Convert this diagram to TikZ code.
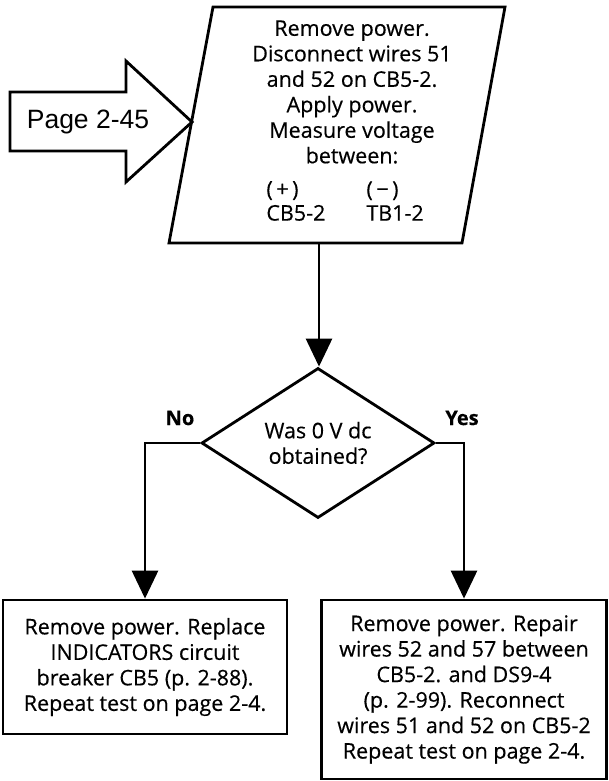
\documentclass[tikz,border=0pt]{standalone}
\usepackage{fontspec}
\setmainfont{Open Sans}[FakeBold=0.4]
\newfontfamily\arialfont{Liberation Sans}
\usetikzlibrary{arrows.meta, shapes.geometric, positioning}

\begin{document}
\begin{tikzpicture}[x=1pt, y=-1pt, line width=2.8pt,
  txt/.style={align=center, inner sep=0pt, font=\fontsize{21.5}{25.5}\selectfont},
  stepbox/.style={draw, rectangle, txt},
  decision/.style={draw, diamond, txt, shape aspect=1.55,
    minimum width=233pt, minimum height=150pt},
  answer/.style={inner sep=0pt, font=\fontsize{20}{22}\selectfont\bfseries},
  flow/.style={-{Triangle[length=28pt, width=26pt]}}
]
  \useasboundingbox (0,0) rectangle (608,781);

  \draw (10,92) -- (126,92) -- (126,61) -- (192,122) -- (126,182)
    -- (126,151) -- (10,151) -- cycle;
  \node[inner sep=0pt, font=\arialfont\fontsize{26.5}{28}\selectfont] (page) at (88,122) {Page 2-45};

  \draw (213,7) -- (505,7) -- (462,243) -- (169,243) -- cycle;
  \coordinate (measureout) at (319,243);
  \node[txt] (measure) at (352,92) {Remove power.\\Disconnect wires 51\\and 52 on CB5-2.\\Apply power.\\Measure voltage\\between:};
  \node[txt, align=left, anchor=west, font=\fontsize{21.5}{24}\selectfont] (plus) at (265,201) {(\,+\,)\\CB5-2};
  \node[txt, align=left, anchor=west, font=\fontsize{21.5}{24}\selectfont] (minus) at (365,201) {(\,−\,)\\TB1-2};

  \node[decision] (test) at (318,443) {Was 0 V dc\\obtained?};
  \node[answer] (no) at (180,418) {No};
  \node[answer] (yes) at (462,418) {Yes};

  \node[stepbox, minimum width=284pt, minimum height=134pt] (replace) at (145,667)
    {Remove power. Replace\\INDICATORS circuit\\breaker CB5 (p. 2-88).\\Repeat test on page 2-4.};
  \node[stepbox, minimum width=285pt, minimum height=179pt] (repair) at (464,689.5)
    {Remove power. Repair\\wires 52 and 57 between\\CB5-2. and DS9-4\\(p. 2-99). Reconnect\\wires 51 and 52 on CB5-2\\Repeat test on page 2-4.};

  \draw[flow] (measureout) -- (measureout |- test.north);
  \draw[flow] (test.west) -| (replace.north);
  \draw[flow] (test.east) -| (repair.north);
\end{tikzpicture}
\end{document}
